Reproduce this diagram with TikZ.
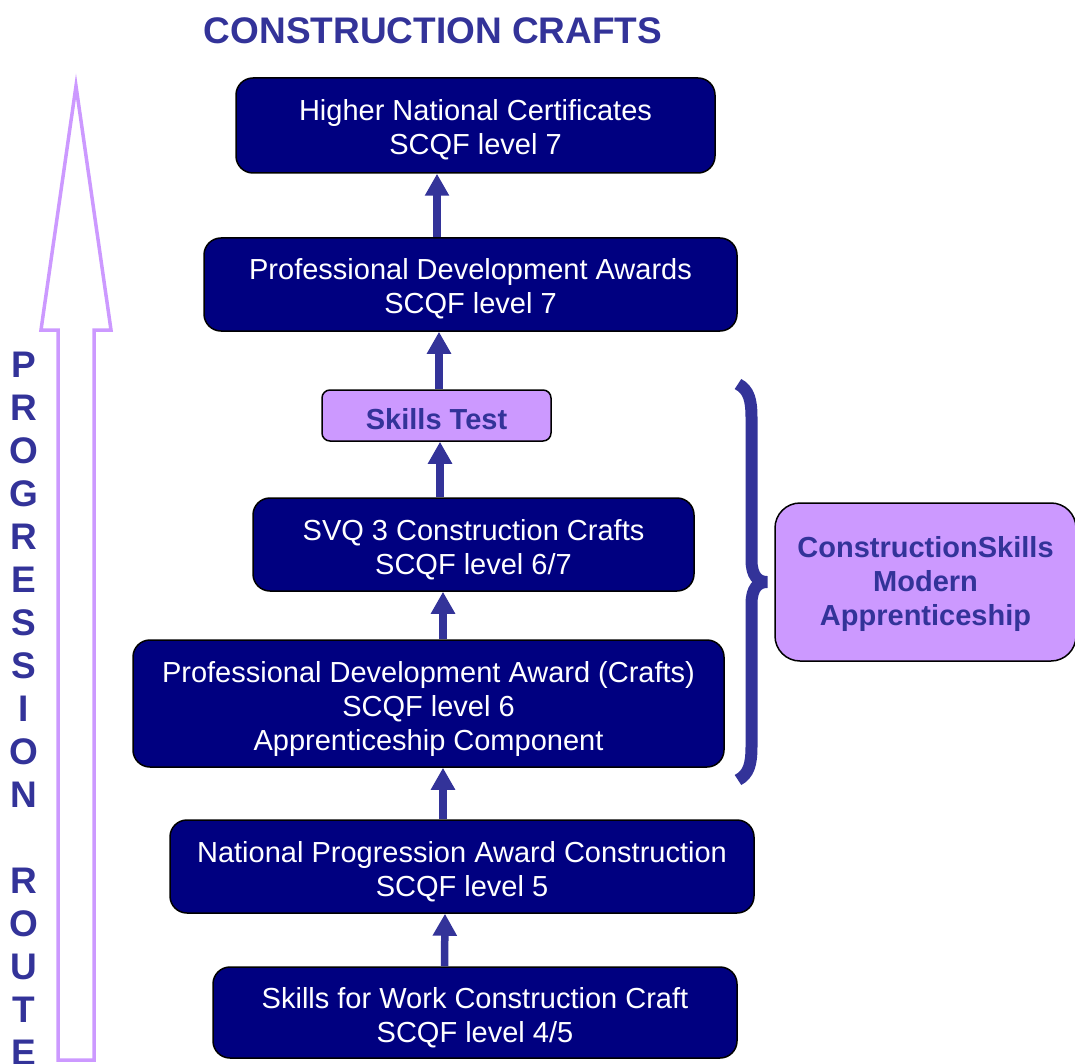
\documentclass[tikz,border=0pt]{standalone}
\usepackage{fontspec}
\setmainfont{Liberation Sans}
\usetikzlibrary{arrows.meta}
\definecolor{navybox}{HTML}{000080}
\definecolor{ink}{HTML}{333399}
\definecolor{lilac}{HTML}{CC99FF}
\newcommand\topstrut[1]{\rule{0pt}{#1pt}}
\tikzset{
  navybox/.style={rectangle, rounded corners=17pt, draw=black, line width=1.5pt, fill=navybox,
    text=white, inner sep=0pt, align=center, font=\fontsize{29}{34}\selectfont},
  lilacbox/.style={rectangle, draw=black, line width=1.5pt, fill=lilac,
    text=ink, inner sep=0pt, align=center, font=\bfseries\fontsize{29}{34}\selectfont},
  uparrow/.style={draw=ink, line width=7.5pt, -{Triangle[width=23pt,length=22pt]}},
  letter/.style={anchor=base, text=ink, font=\bfseries\fontsize{37}{43}\selectfont, inner sep=0pt},
  progline/.style={draw=lilac, line width=3.5pt, line join=miter},
  brace/.style={draw=ink, line width=12pt}
}
\begin{document}
\begin{tikzpicture}[x=1pt,y=-1pt]
\useasboundingbox (0,0) rectangle (1075,1064);

% title
\node[text=ink, font=\bfseries\fontsize{37}{43}\selectfont, inner sep=0pt] (title) at (433,31) {CONSTRUCTION CRAFTS};

% progression route hollow arrow
\draw[progline] (76,86) -- (111,330) -- (94,330) -- (94,1060) -- (58,1060) -- (58,330) -- (41,330) -- cycle;

% vertical letters
\foreach \ch/\i in {P/0,R/1,O/2,G/3,R/4,E/5,S/6,S/7,I/8,O/9,N/10,R/12,O/13,U/14,T/15,E/16}{
  \node[letter] (let\i) at (24,{377.75+43*\i}) {\ch};
}

% boxes
\node[navybox, minimum width=479pt, minimum height=95pt] (hnc) at (475.5,125.5) {\topstrut{29}Higher National Certificates\\SCQF level 7};
\node[navybox, minimum width=533pt, minimum height=93pt] (pda) at (470.5,284.5) {\topstrut{29}Professional Development Awards\\SCQF level 7};
\node[lilacbox, rounded corners=8pt, minimum width=229pt, minimum height=51pt] (skills) at (436.5,415.5) {\topstrut{29}Skills Test};
\node[navybox, minimum width=441pt, minimum height=93pt] (svq) at (473.5,544.5) {\topstrut{31}SVQ 3 Construction Crafts\\SCQF level 6/7};
\node[navybox, minimum width=591pt, minimum height=127pt] (pdac) at (428.5,703.5) {\topstrut{33}Professional Development Award (Crafts)\\SCQF level 6\\Apprenticeship Component};
\node[navybox, minimum width=584pt, minimum height=93pt] (npa) at (462,866.5) {\topstrut{31}National Progression Award Construction\\SCQF level 5};
\node[navybox, minimum width=524pt, minimum height=91pt] (sfw) at (475,1012.5) {\topstrut{32}Skills for Work Construction Craft\\SCQF level 4/5};
\node[lilacbox, rounded corners=25pt, minimum width=301pt, minimum height=158pt] (csma) at (925.5,582) {\topstrut{25}ConstructionSkills\\Modern\\Apprenticeship};

% arrows
\draw[uparrow] ([xshift=-33.5pt]pda.north) -- ([xshift=-38.5pt]hnc.south);
\draw[uparrow] ([xshift=2.5pt]skills.north) -- ([xshift=-31.5pt]pda.south);
\draw[uparrow] ([xshift=-33.5pt]svq.north) -- ([xshift=3.5pt]skills.south);
\draw[uparrow] ([xshift=14.5pt]pdac.north) -- ([xshift=-30.5pt]svq.south);
\draw[uparrow] ([xshift=-19pt]npa.north) -- ([xshift=14.5pt]pdac.south);
\draw[uparrow] ([xshift=-30.5pt]sfw.north) -- ([xshift=-17pt]npa.south);

% brace
\draw[brace] (738,384) .. controls (749,390) and (751.5,400) .. (751.5,418)
  -- (751.5,560) .. controls (751.5,576) and (758,582) .. (767,582)
  .. controls (758,582) and (751.5,588) .. (751.5,604)
  -- (751.5,746) .. controls (751.5,764) and (749,774) .. (738,780);
\end{tikzpicture}
\end{document}
